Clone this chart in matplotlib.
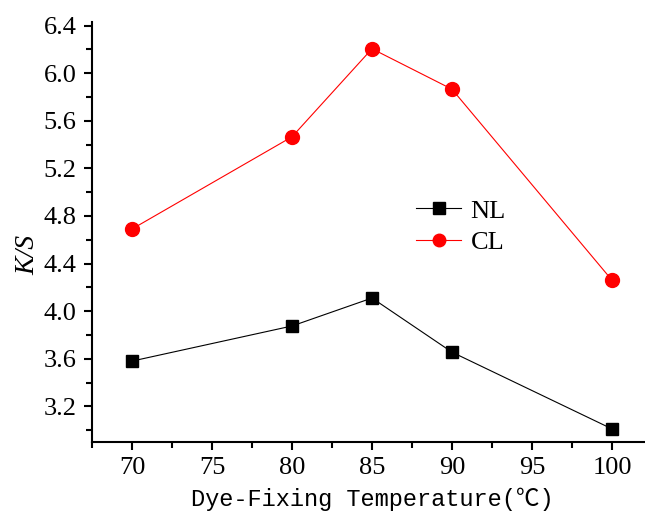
import matplotlib
matplotlib.use("Agg")
import matplotlib.pyplot as plt
from matplotlib.ticker import MultipleLocator

temps = [70, 80, 85, 90, 100]
nl = [3.58, 3.875, 4.11, 3.655, 3.01]
cl = [4.69, 5.465, 6.205, 5.865, 4.26]
xticks = [70, 75, 80, 85, 90, 95, 100]
yticks = [3.2, 3.6, 4.0, 4.4, 4.8, 5.2, 5.6, 6.0, 6.4]

fig = plt.figure(figsize=(6.45, 5.21), dpi=100)
ax = fig.add_axes([92/645, 79/521, 560/645, 420/521])

ax.plot(temps, nl, color='black', lw=0.8, marker='s', ms=8.8, label='NL')
ax.plot(temps, cl, color='red', lw=0.8, marker='o', ms=10, label='CL')

ax.set_xlim(67.5, 102.5)
ax.set_ylim(2.9, 6.43)
ax.set_xticks(xticks)
ax.set_yticks(yticks)
ax.set_yticklabels([f"{v:.1f}" for v in yticks])
ax.xaxis.set_minor_locator(MultipleLocator(2.5))
ax.yaxis.set_minor_locator(MultipleLocator(0.2))

for s in ['top', 'right']:
    ax.spines[s].set_visible(False)
for s in ['left', 'bottom']:
    ax.spines[s].set_linewidth(1.5)

ax.tick_params(which='major', direction='out', length=6, width=1.5, labelsize=19, pad=5)
ax.tick_params(which='minor', direction='out', length=4, width=1.5)
for lab in ax.get_xticklabels() + ax.get_yticklabels():
    lab.set_fontfamily('Liberation Serif')

ax.set_ylabel('K/S', fontsize=20, family='Liberation Serif', style='italic')
ax.yaxis.set_label_coords(-0.092, 0.445)
ax.set_xlabel('Dye-Fixing Temperature(℃)', fontsize=17,
              family=['Liberation Mono', 'Noto Sans CJK SC'], labelpad=6)

leg = ax.legend(loc='upper left', bbox_to_anchor=(0.537, 0.635), frameon=False,
                prop={'family': 'Liberation Serif', 'size': 19},
                handlelength=1.7, handletextpad=0.35, labelspacing=0.3)
for h in leg.legend_handles:
    h.set_markersize(9)

fig.savefig('out.png', dpi=100)
